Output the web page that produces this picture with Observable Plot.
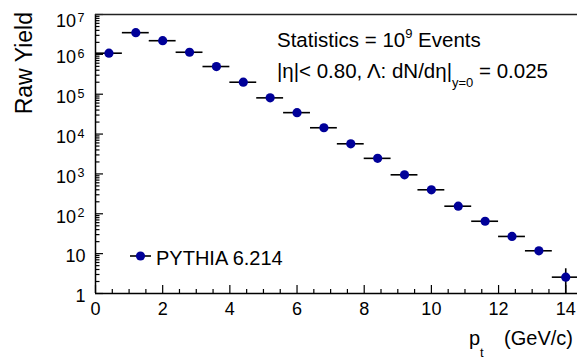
<!DOCTYPE html>
<html><head><meta charset="utf-8">
<script src="https://cdn.jsdelivr.net/npm/d3@7"></script>
<script src="https://cdn.jsdelivr.net/npm/@observablehq/plot@0.6"></script>
<style>
html,body{margin:0;padding:0;background:#fff;}
svg{display:block;}
</style></head><body><div id="chart"></div>
<script>
// ---- data ----
const ptCenters   = [0.4, 1.2, 2.0, 2.8, 3.6, 4.4, 5.2, 6.0, 6.8, 7.6, 8.4, 9.2, 10.0, 10.8, 11.6, 12.4, 13.2, 14.0];
const ptHalfWidth = [0.4, 0.4, 0.4, 0.4, 0.4, 0.4, 0.4, 0.4, 0.4, 0.4, 0.4, 0.4, 0.4, 0.4, 0.4, 0.4, 0.4, 0.4];
const rawYield    = [1.07e6, 3.5e6, 2.2e6, 1.13e6, 4.95e5, 2.0e5, 8.1e4, 3.45e4, 1.44e4, 5.7e3, 2.46e3, 950, 400, 155, 65, 27, 11.8, 2.57];
const yieldErr    = [0, 0, 0, 0, 0, 0, 0, 0, 0, 0, 0, 0, 0, 0, 0, 0, 0, 1.6];

const xMajorTicks = [0, 2, 4, 6, 8, 10, 12, 14];
const yMajorTicks = [1, 10, 100, 1e3, 1e4, 1e5, 1e6, 1e7];
const yTickBase   = ["1", "10", "10", "10", "10", "10", "10", "10"];
const yTickExp    = ["", "", "2", "3", "4", "5", "6", "7"];

const xTitle = "p", xTitleSub = "t", xTitleUnit = "(GeV/c)";
const yTitle = "Raw Yield";
const legendLabel = "PYTHIA 6.214";
const annot1 = ["Statistics = 10", "9", " Events"];
const annot2 = ["|\u03b7|< 0.80, \u039b: dN/d\u03b7|", "y=0", " = 0.025"];

// ---- derived tables ----
const data = ptCenters.map((x, i) => ({x, x1: x - ptHalfWidth[i], x2: x + ptHalfWidth[i], y: rawYield[i], lo: rawYield[i] - yieldErr[i], hi: rawYield[i] + yieldErr[i], e: yieldErr[i]}));
const yTicks = yMajorTicks.map((v, i) => ({v, base: yTickBase[i], exp: yTickExp[i], top: i === yMajorTicks.length - 1}));
const yMinorTicks = [];
for (const d of yMajorTicks.slice(0, -1)) for (let k = 2; k <= 9; k++) yMinorTicks.push(d * k);
const xMinorTicks = d3.range(0, 14.01, 0.5).filter(v => v % 2 !== 0);

const FONT = "'Liberation Sans', Arial, Helvetica, sans-serif";
const markerColor = "#000099";
const W = 577, H = 360, ML = 95, MT = 14, MB = 67, MR = 0;
const innerW = W - ML - MR, innerH = H - MT - MB;

const svgNode = Plot.plot({
  width: W, height: H,
  marginLeft: ML, marginTop: MT, marginBottom: MB, marginRight: MR,
  style: {fontFamily: FONT, fontSize: "18px", background: "white", color: "black", overflow: "hidden"},
  x: {domain: [0, 14.35], axis: null},
  y: {type: "log", domain: [1, 1e7], axis: null},
  marks: [
    // inward ticks
    Plot.tickX(xMajorTicks, {x: d => d, insetTop: innerH - 8, stroke: "#000", strokeWidth: 1.2}),
    Plot.tickX(xMinorTicks, {x: d => d, insetTop: innerH - 4, stroke: "#000", strokeWidth: 1.2}),
    Plot.tickY(yMajorTicks, {y: d => d, insetRight: innerW - 8, stroke: "#000", strokeWidth: 1.2}),
    Plot.tickY(yMinorTicks, {y: d => d, insetRight: innerW - 4.5, stroke: "#000", strokeWidth: 1.2}),
    // frame lines
    Plot.ruleX([0], {stroke: "#000", strokeWidth: 1.5}),
    Plot.ruleY([1], {stroke: "#000", strokeWidth: 1.5}),
    Plot.ruleY([1e7], {stroke: "#222", strokeWidth: 1.5}),
    // tick labels
    Plot.text(xMajorTicks, {x: d => d, frameAnchor: "bottom", lineAnchor: "middle", dy: 16, fontSize: 18, fill: "#000"}),
    Plot.text(yTicks.filter(d => !d.exp), {y: "v", text: "base", frameAnchor: "left", textAnchor: "end", lineAnchor: "middle", dx: -10, dy: 3, fontSize: 18, fill: "#000"}),
    Plot.text(yTicks.filter(d => d.exp && !d.top), {y: "v", text: "base", frameAnchor: "left", textAnchor: "end", lineAnchor: "middle", dx: -19.5, dy: 3, fontSize: 18, fill: "#000"}),
    Plot.text(yTicks.filter(d => d.exp && !d.top), {y: "v", text: "exp", frameAnchor: "left", textAnchor: "start", lineAnchor: "middle", dx: -18, dy: -0.5, fontSize: 12.5, fill: "#000"}),
    Plot.text(yTicks.filter(d => d.top), {y: "v", text: "base", frameAnchor: "left", textAnchor: "end", lineAnchor: "middle", dx: -19.5, dy: 6.5, fontSize: 18, fill: "#000"}),
    Plot.text(yTicks.filter(d => d.top), {y: "v", text: "exp", frameAnchor: "left", textAnchor: "start", lineAnchor: "middle", dx: -18, dy: 3, fontSize: 12.5, fill: "#000"}),
    // error bars
    Plot.ruleY(data, {y: "y", x1: "x1", x2: "x2", stroke: "#000", strokeWidth: 1.6}),
    Plot.ruleX(data.filter(d => d.e > 0), {x: "x", y1: "lo", y2: "hi", stroke: "#000", strokeWidth: 1.6, clip: true}),
    // markers
    Plot.dot(data, {x: "x", y: "y", r: 4.6, fill: markerColor, stroke: "none"})
  ]
});

const svg = d3.select(svgNode);
const g = svg.append("g").attr("font-family", FONT).attr("fill", "#000").attr("text-anchor", "start");

// y title
g.append("text").attr("transform", "translate(31.5,12) rotate(-90)")
  .attr("text-anchor", "end").attr("font-size", 23).text(yTitle);

// x title
g.append("text").attr("x", 469).attr("y", 345).attr("font-size", 20).text(xTitle);
g.append("text").attr("x", 480).attr("y", 357).attr("font-size", 13).text(xTitleSub);
g.append("text").attr("x", 573).attr("y", 345).attr("text-anchor", "end").attr("font-size", 20).text(xTitleUnit);

// annotations
const t1 = g.append("text").attr("x", 277).attr("y", 46.5).attr("font-size", 20.5);
t1.append("tspan").text(annot1[0]);
t1.append("tspan").attr("font-size", 13).attr("dy", -8.5).text(annot1[1]);
t1.append("tspan").attr("dy", 8.5).text(annot1[2]);

const t2 = g.append("text").attr("x", 277).attr("y", 78).attr("font-size", 20.5);
t2.append("tspan").text(annot2[0]);
t2.append("tspan").attr("font-size", 13).attr("dy", 9).text(annot2[1]);
t2.append("tspan").attr("dy", -9).text(annot2[2]);

// legend
g.append("line").attr("x1", 130).attr("x2", 151).attr("y1", 256).attr("y2", 256).attr("stroke", "#000").attr("stroke-width", 1.6);
g.append("circle").attr("cx", 140.5).attr("cy", 256).attr("r", 4.6).attr("fill", markerColor);
g.append("text").attr("x", 156).attr("y", 265).attr("font-size", 20).text(legendLabel);

document.getElementById("chart").appendChild(svgNode);
</script></body></html>
